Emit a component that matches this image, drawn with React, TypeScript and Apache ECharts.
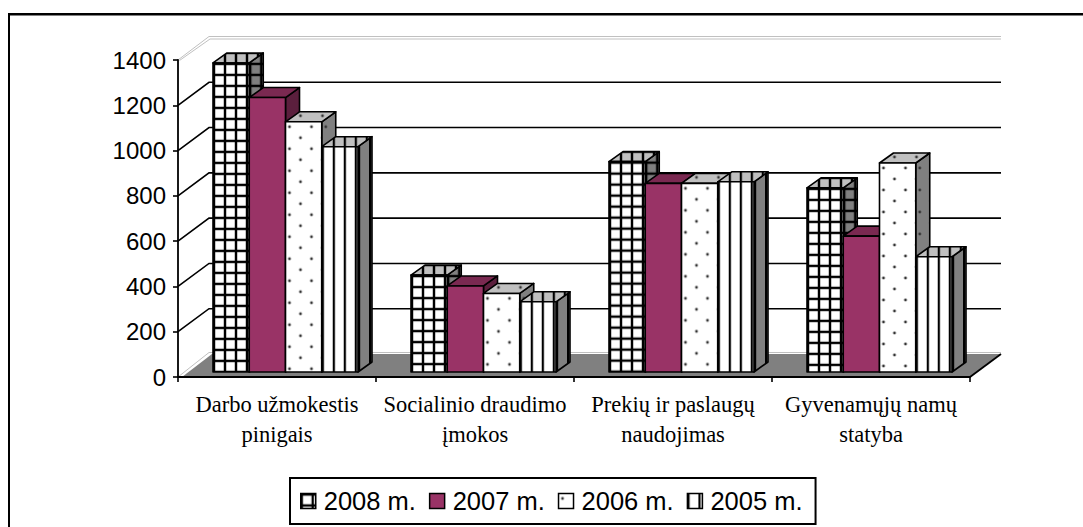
import React, { useEffect, useRef } from "react";
import * as echarts from "echarts";

const categories = [
  "Darbo užmokestis\npinigais",
  "Socialinio draudimo\nįmokos",
  "Prekių ir paslaugų\nnaudojimas",
  "Gyvenamųjų namų\nstatyba",
];
const seriesNames = ["2008 m.", "2007 m.", "2006 m.", "2005 m."];
const values2008 = [1365, 428, 929, 813];
const values2007 = [1212, 380, 833, 600];
const values2006 = [1105, 347, 833, 923];
const values2005 = [995, 310, 840, 509];
const gridTicks = [200, 400, 600, 800, 1000, 1200];

const WALL_DX = 31;
const WALL_DY = -23;
const BAR_DX = 14;
const BAR_DY = -10;
const FRONT_DY = -5;
const GROUP_OFFSET = 8.5;
const BAR_FRACTION = 36.25 / 198;

type Painter = (c: CanvasRenderingContext2D, w: number, h: number) => void;

function pattern(w: number, h: number, bg: string, paint: Painter) {
  const canvas = document.createElement("canvas");
  canvas.width = w;
  canvas.height = h;
  const c = canvas.getContext("2d")!;
  c.fillStyle = bg;
  c.fillRect(0, 0, w, h);
  paint(c, w, h);
  return { image: canvas, repeat: "repeat", imageWidth: w, imageHeight: h };
}

const gridPaint: Painter = (c, w, h) => {
  c.fillStyle = "rgba(0,0,0,0.22)";
  c.fillRect(2, 0, 1, h);
  c.fillRect(w - 1, 0, 1, h);
  c.fillRect(0, 2, w, 1);
  c.fillRect(0, h - 1, w, 1);
  c.fillStyle = "#000";
  c.fillRect(0, 0, 2, h);
  c.fillRect(0, 0, w, 2);
};
const dotPaint: Painter = (c) => {
  c.fillStyle = "#333";
  [[4, 5], [15, 16]].forEach(([x, y]) => {
    c.beginPath();
    c.arc(x, y, 1.4, 0, Math.PI * 2);
    c.fill();
  });
};
const stripePaint: Painter = (c, w, h) => {
  c.fillStyle = "rgba(0,0,0,0.2)";
  c.fillRect(2, 0, 1, h);
  c.fillStyle = "#000";
  c.fillRect(0, 0, 2, h);
};

function faces(kind: string) {
  if (kind === "solid") {
    return { front: "#993366", top: "#7a2951", side: "#5b1f3d" };
  }
  const make = (bg: string) =>
    kind === "grid"
      ? pattern(11, 11, bg, gridPaint)
      : kind === "dots"
      ? pattern(22, 22, bg, dotPaint)
      : pattern(11, 11, bg, stripePaint);
  return { front: make("#ffffff"), top: make("#c0c0c0"), side: make("#808080") };
}

export default function App() {
  const ref = useRef<HTMLDivElement>(null);

  useEffect(() => {
    document.body.style.margin = "0";
    const chart = echarts.init(ref.current!, undefined, { renderer: "svg" });
    const styles = [faces("grid"), faces("solid"), faces("dots"), faces("stripes")];
    const allValues = [values2008, values2007, values2006, values2005];

    const barStroke = { stroke: "#000", lineWidth: 1.6, lineJoin: "round" };

    const barSeries = seriesNames.map((name, k) => ({
      type: "custom",
      name,
      coordinateSystem: "cartesian2d",
      z: 4,
      silent: true,
      encode: { x: 0, y: 1 },
      data: allValues[k].map((v, i) => [i, v]),
      renderItem: (_p: any, api: any) => {
        const i = api.value(0);
        const top = api.coord([i, api.value(1)]);
        const base = api.coord([i, 0]);
        const band = api.size([1, 0])[0];
        const w = band * BAR_FRACTION;
        const x = top[0] + GROUP_OFFSET + (k - 2) * w;
        const y = top[1] + FRONT_DY;
        const h = base[1] - top[1];
        return {
          type: "group",
          children: [
            {
              type: "polygon",
              x: x + w,
              y,
              shape: { points: [[0, 0], [BAR_DX, BAR_DY], [BAR_DX, h + BAR_DY], [0, h]] },
              style: { fill: styles[k].side, ...barStroke },
            },
            {
              type: "polygon",
              x,
              y,
              shape: { points: [[0, 0], [BAR_DX, BAR_DY], [w + BAR_DX, BAR_DY], [w, 0]] },
              style: { fill: styles[k].top, ...barStroke },
            },
            {
              type: "rect",
              x,
              y,
              shape: { x: 0, y: 0, width: w, height: h },
              style: { fill: styles[k].front, ...barStroke },
            },
          ],
        };
      },
    }));

    const wallSeries = {
      type: "custom",
      name: "walls",
      coordinateSystem: "cartesian2d",
      z: 1,
      silent: true,
      clip: false,
      data: gridTicks.map((v) => [0, v]),
      encode: { x: 0, y: 1 },
      renderItem: (p: any, api: any) => {
        const r = p.coordSys;
        const y = api.coord([0, api.value(1)])[1];
        return {
          type: "polyline",
          shape: {
            points: [
              [r.x, y],
              [r.x + WALL_DX, y + WALL_DY],
              [r.x + r.width + WALL_DX, y + WALL_DY],
            ],
          },
          style: { stroke: "#000", lineWidth: 1.6, fill: null },
        };
      },
    };

    const frameSeries = {
      type: "custom",
      name: "frame",
      coordinateSystem: "cartesian2d",
      z: 1,
      silent: true,
      clip: false,
      data: [[0, 0]],
      encode: { x: 0, y: 1 },
      renderItem: (p: any) => {
        const r = p.coordSys;
        const l = r.x;
        const rt = r.x + r.width;
        const t = r.y;
        const b = r.y + r.height;
        const grey = { stroke: "#c0c0c0", lineWidth: 1, fill: null };
        return {
          type: "group",
          children: [
            {
              type: "polygon",
              shape: {
                points: [
                  [l + 4, b],
                  [rt, b],
                  [rt + WALL_DX, b + WALL_DY],
                  [l + WALL_DX + 3, b + WALL_DY],
                ],
              },
              style: { fill: "#808080" },
            },
            {
              type: "line",
              shape: { x1: rt, y1: b, x2: rt + WALL_DX, y2: b + WALL_DY },
              style: { stroke: "#000", lineWidth: 1.8 },
            },
            {
              type: "polyline",
              shape: {
                points: [
                  [l, b],
                  [l + WALL_DX, b + WALL_DY - 1.5],
                  [rt + WALL_DX, b + WALL_DY - 1.5],
                ],
              },
              style: grey,
            },
            {
              type: "polyline",
              shape: {
                points: [
                  [l, t],
                  [l + WALL_DX, t + WALL_DY - 0.5],
                  [rt + WALL_DX, t + WALL_DY - 0.5],
                ],
              },
              style: grey,
            },
            {
              type: "polyline",
              shape: {
                points: [
                  [l + 1.5, t + 0.5],
                  [l + WALL_DX + 1, t + WALL_DY + 2],
                  [rt + WALL_DX, t + WALL_DY + 2],
                ],
              },
              style: grey,
            },
          ],
        };
      },
    };

    chart.setOption({
      animation: false,
      backgroundColor: "#ffffff",
      grid: { left: 178, top: 60, width: 792, height: 317, containLabel: false },
      xAxis: {
        type: "category",
        data: categories,
        z: 6,
        axisLine: { lineStyle: { color: "#000", width: 1.8 } },
        axisTick: { show: true, length: 5, lineStyle: { color: "#000", width: 1.6 } },
        splitLine: { show: false },
        axisLabel: {
          interval: 0,
          margin: 12,
          color: "#000",
          fontFamily: "Liberation Serif",
          fontSize: 22.5,
          lineHeight: 30,
        },
      },
      yAxis: {
        type: "value",
        min: 0,
        max: 1400,
        interval: 200,
        z: 6,
        axisLine: { show: true, lineStyle: { color: "#000", width: 1.8 } },
        axisTick: { show: true, length: 5, lineStyle: { color: "#000", width: 1.6 } },
        splitLine: { show: false },
        axisLabel: {
          margin: 12,
          color: "#000",
          fontFamily: "Liberation Sans",
          fontSize: 24,
          formatter: (v: number) => String(v),
        },
      },
      legend: {
        left: 290,
        top: 478,
        orient: "horizontal",
        selectedMode: false,
        itemWidth: 15,
        itemHeight: 15,
        itemGap: 13,
        padding: [10, 13, 10, 10],
        borderColor: "#000",
        borderWidth: 2,
        backgroundColor: "#fff",
        textStyle: {
          color: "#000",
          fontFamily: "Liberation Sans",
          fontSize: 25.5,
          padding: [0, 0, 0, 3],
        },
        data: seriesNames.map((name, k) => ({
          name,
          icon: "rect",
          itemStyle: { color: styles[k].front, borderColor: "#000", borderWidth: 1.5 },
        })),
      },
      graphic: [
        {
          type: "polyline",
          silent: true,
          shape: { points: [[9, 527], [9, 14], [1083, 14]] },
          style: { stroke: "#000", lineWidth: 2, fill: null },
        },
        {
          type: "line",
          silent: true,
          shape: { x1: 10, y1: 15.5, x2: 1083, y2: 15.5 },
          style: { stroke: "#808080", lineWidth: 1 },
        },
      ],
      series: [frameSeries, wallSeries, ...barSeries],
    } as any);
    return () => chart.dispose();
  }, []);

  return (
    <div
      ref={ref}
      style={{ position: "absolute", left: 0, top: 0, width: 1083, height: 527 }}
    />
  );
}
